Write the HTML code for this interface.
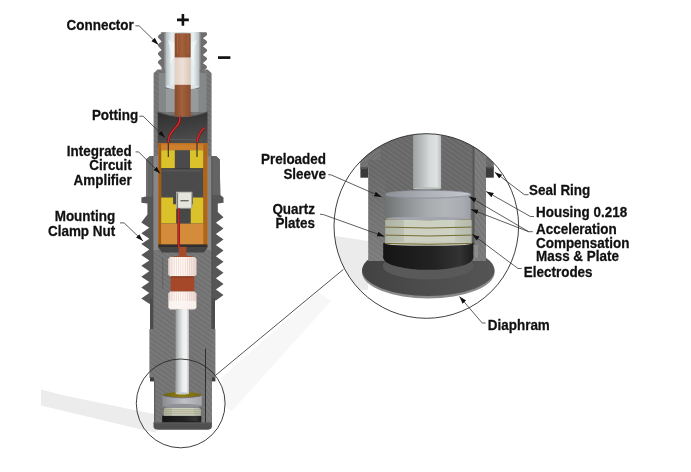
<!DOCTYPE html>
<html><head><meta charset="utf-8"><title>Piezoelectric pressure sensor</title>
<style>html,body{margin:0;padding:0;background:#fff;}body{width:691px;height:472px;overflow:hidden;font-family:"Liberation Sans",sans-serif;}svg{display:block;}</style>
</head><body><svg width="691" height="472" viewBox="0 0 691 472"><defs>
<pattern id="hatch" width="4" height="4" patternUnits="userSpaceOnUse" patternTransform="rotate(35)">
 <rect width="4" height="4" fill="#747474"/><rect width="4" height="1.2" fill="#7b7b7b"/><rect y="2.4" width="4" height="0.8" fill="#6d6d6d"/>
</pattern>
<pattern id="hatch2" width="4" height="4" patternUnits="userSpaceOnUse" patternTransform="rotate(-35)">
 <rect width="4" height="4" fill="#727272"/><rect width="4" height="1.2" fill="#797979"/><rect y="2.4" width="4" height="0.8" fill="#6c6c6c"/>
</pattern>
<pattern id="hatchW" width="4" height="4" patternUnits="userSpaceOnUse" patternTransform="rotate(55)">
 <rect width="4" height="4" fill="#7a7a7a"/><rect width="4" height="1.2" fill="#828282"/><rect y="2.4" width="4" height="0.8" fill="#747474"/>
</pattern>
<pattern id="hatchM" width="4" height="4" patternUnits="userSpaceOnUse" patternTransform="rotate(35)">
 <rect width="4" height="4" fill="#6a6a6a"/><rect width="4" height="1.2" fill="#717171"/><rect y="2.4" width="4" height="0.8" fill="#646464"/>
</pattern>
<pattern id="hatchD" width="4" height="4" patternUnits="userSpaceOnUse" patternTransform="rotate(35)">
 <rect width="4" height="4" fill="#5e5e5e"/><rect width="4" height="1" fill="#686868"/>
</pattern>
<linearGradient id="rod" x1="0" x2="1" y1="0" y2="0">
 <stop offset="0" stop-color="#999d9d"/><stop offset="0.25" stop-color="#c6caca"/><stop offset="0.55" stop-color="#eceeee"/><stop offset="0.8" stop-color="#f2f4f4"/><stop offset="1" stop-color="#b6baba"/>
</linearGradient>
<linearGradient id="rodB" x1="0" x2="1" y1="0" y2="0">
 <stop offset="0" stop-color="#9ea2a2"/><stop offset="0.3" stop-color="#b8bcbc"/><stop offset="0.6" stop-color="#d6dada"/><stop offset="0.85" stop-color="#dde1e1"/><stop offset="1" stop-color="#b8bcbc"/>
</linearGradient>
<linearGradient id="copper" x1="0" x2="1" y1="0" y2="0">
 <stop offset="0" stop-color="#874a2c"/><stop offset="0.45" stop-color="#a3613c"/><stop offset="1" stop-color="#8a4d2e"/>
</linearGradient>
<linearGradient id="cream" x1="0" x2="1" y1="0" y2="0">
 <stop offset="0" stop-color="#e2cfc2"/><stop offset="0.5" stop-color="#eee0d6"/><stop offset="1" stop-color="#d9c6b8"/>
</linearGradient>
<linearGradient id="glass" x1="0" x2="1" y1="0" y2="0">
 <stop offset="0" stop-color="#aeb8bb"/><stop offset="0.18" stop-color="#e8eef0"/><stop offset="0.5" stop-color="#cdd5d8"/><stop offset="0.82" stop-color="#eaf0f2"/><stop offset="1" stop-color="#b2bcbf"/>
</linearGradient>
<linearGradient id="potting" x1="0" x2="0.25" y1="0" y2="1">
 <stop offset="0" stop-color="#2e2e2e"/><stop offset="1" stop-color="#4e4e4e"/>
</linearGradient>
<linearGradient id="stripe" x1="0" x2="1" y1="0" y2="0">
 <stop offset="0" stop-color="#eee0da"/><stop offset="0.3" stop-color="#fefaf8"/><stop offset="0.7" stop-color="#faf2ee"/><stop offset="1" stop-color="#e6d4cc"/>
</linearGradient>
<pattern id="vstr" width="2.2" height="10" patternUnits="userSpaceOnUse"><rect width="2.2" height="10" fill="none"/><rect width="0.6" height="10" fill="#d8907c" opacity="0.38"/></pattern>
<linearGradient id="sleeve" x1="0" x2="1" y1="0" y2="0">
 <stop offset="0" stop-color="#6f7373"/><stop offset="0.25" stop-color="#8e9294"/><stop offset="0.5" stop-color="#a8acae"/><stop offset="0.7" stop-color="#b2b5b8"/><stop offset="0.9" stop-color="#aaacb2"/><stop offset="1" stop-color="#9c9ea6"/>
</linearGradient>
<linearGradient id="sleeveT" x1="0" x2="1" y1="0" y2="0">
 <stop offset="0" stop-color="#8e9098"/><stop offset="0.5" stop-color="#b0b2ba"/><stop offset="1" stop-color="#c4c6cc"/>
</linearGradient>
<linearGradient id="sleeveS" x1="0" x2="1" y1="0" y2="0">
 <stop offset="0" stop-color="#8a8c92"/><stop offset="0.55" stop-color="#c0c2c7"/><stop offset="1" stop-color="#a2a4aa"/>
</linearGradient>
<linearGradient id="quartz" x1="0" x2="1" y1="0" y2="0">
 <stop offset="0" stop-color="#afb3a4"/><stop offset="0.21" stop-color="#bcc0b0"/><stop offset="0.22" stop-color="#ccd0c0"/><stop offset="0.8" stop-color="#cdd1c1"/><stop offset="0.81" stop-color="#c3c7b7"/><stop offset="1" stop-color="#b5b9aa"/>
</linearGradient>
<linearGradient id="black" x1="0" x2="1" y1="0" y2="0">
 <stop offset="0" stop-color="#151515"/><stop offset="0.55" stop-color="#222"/><stop offset="0.85" stop-color="#333"/><stop offset="1" stop-color="#1c1c1c"/>
</linearGradient>
<linearGradient id="diaph" x1="0" x2="1" y1="0" y2="0">
 <stop offset="0" stop-color="#424242"/><stop offset="0.5" stop-color="#4d4d4d"/><stop offset="1" stop-color="#555"/>
</linearGradient>
<linearGradient id="olive" x1="0" x2="1" y1="0" y2="0">
 <stop offset="0" stop-color="#6e600a"/><stop offset="0.5" stop-color="#8e7e14"/><stop offset="1" stop-color="#75660c"/>
</linearGradient>
<linearGradient id="wallL" x1="0" x2="0" y1="0" y2="1">
 <stop offset="0" stop-color="#fff" stop-opacity="0"/><stop offset="1" stop-color="#fff" stop-opacity="0.13"/>
</linearGradient>
<clipPath id="bigc"><circle cx="426.3" cy="226" r="92.3"/></clipPath>
<marker id="ar" viewBox="0 0 10 10" refX="10" refY="5" markerWidth="7.4" markerHeight="7.4" markerUnits="userSpaceOnUse" orient="auto">
 <path d="M0,1.8 L10,5 L0,8.2 z" fill="#111"/>
</marker>
</defs><polygon points="41,389.4 64.4,395.5 156,414.6 156,432.8 135.3,427.9 41,405.6" fill="#ececec"/><polygon points="318,292 331,301 232,411 223,406 221,378" fill="#f7f7f7"/><rect x="165.5" y="32.2" width="34" height="55.5" fill="url(#glass)"/><path d="M168,40 Q172,52 170,64 Q176,56 178,44 Z" fill="#f4f8f9" opacity="0.8"/><path d="M197,40 Q192,52 195,66 Q190,58 188,44 Z" fill="#f4f8f9" opacity="0.7"/><ellipse cx="182.5" cy="86.8" rx="16.5" ry="2.8" fill="#e0e7ea"/><path d="M166,32.2 L160.6,32.2 L161.4,33.3 C158,35 157.6,36.7 158.2,37.72 C158.8,38.82 161,40.1 161.6,41.8 C158,43.5 157.6,45.2 158.2,46.22 C158.8,47.32 161,48.6 161.6,50.3 C158,52 157.6,53.7 158.2,54.72 C158.8,55.82 161,57.1 161.6,58.8 C158,60.5 157.6,62.2 158.2,63.22 C158.8,64.33 161,65.6 161.6,67.3 L161.6,70.3 L166,70.3 Z" fill="#6e6e6e"/><path d="M199.2,32.2 L206.2,32.2 C207.3,32.6 207.3,34.6 206.6,35.4 C205.5,36.6 203.5,37.4 202.8,38.3 C206.6,40.38 207.3,41.62 207.1,42.45 C206.8,43.7 204,45.35 202.8,46.6 C206.6,48.67 207.3,49.92 207.1,50.75 C206.8,51.99 204,53.65 202.8,54.9 C206.6,56.97 207.3,58.22 207.1,59.05 C206.8,60.29 204,61.95 202.8,63.2 C206.6,65.27 207.3,66.52 207.1,67.35 C206.8,68.59 204,70.25 202.8,71.5 L202.8,70.3 L199.2,70.3 Z" fill="#6e6e6e"/><rect x="164" y="32.2" width="2" height="38" fill="#8a8a8a"/><rect x="199.2" y="32.2" width="1.6" height="38" fill="#8a8a8a"/><polygon points="157.5,69.5 207.7,69.5 211.6,73.2 211.6,160 153.6,160 153.6,73.2" fill="url(#hatch)"/><rect x="158.8" y="73" width="7.4" height="39" fill="#848888"/><rect x="198.2" y="73" width="8.2" height="39" fill="#848888"/><rect x="165.5" y="32.2" width="34" height="54.8" fill="url(#glass)"/><path d="M168,40 Q172,52 170,64 Q176,56 178,44 Z" fill="#f4f8f9" opacity="0.8"/><path d="M197,40 Q192,52 195,66 Q190,58 188,44 Z" fill="#f4f8f9" opacity="0.7"/><ellipse cx="182.5" cy="86.8" rx="16.5" ry="2.6" fill="#dde4e7"/><rect x="166" y="89" width="32.5" height="23" fill="#979b9b"/><rect x="174.7" y="33.3" width="16" height="24.4" rx="0.8" fill="url(#copper)"/><rect x="177" y="34" width="1" height="20" fill="#b86a40" opacity="0.7"/><rect x="187.5" y="34" width="1" height="20" fill="#b86a40" opacity="0.7"/><rect x="174.7" y="57.6" width="16" height="27.2" fill="url(#cream)"/><rect x="174.7" y="84.8" width="16" height="31.4" fill="url(#copper)"/><path d="M157.7,111.8 Q182.6,121.6 207.5,111.8 L207.5,146 L157.7,146 Z" fill="url(#potting)"/><path d="M157.7,111.8 Q182.6,121.6 207.5,111.8" fill="none" stroke="#5a5a5a" stroke-width="1.2"/><rect x="174.7" y="112" width="16" height="4.6" fill="url(#copper)"/><line x1="170" y1="139.6" x2="196" y2="139.6" stroke="#6a6a6a" stroke-width="0.5"/><polygon points="150,156 146.2,159.5 146,196.6 141.4,197.6 141.4,202.7 147.4,203.6 147.4,214.5 141.3,222.43 149.3,227.85 141.3,233.28 149.3,238.7 141.3,244.12 149.3,249.55 141.3,254.97 149.3,260.4 141.3,265.82 149.3,271.25 141.3,276.68 149.3,282.1 141.3,287.53 149.3,292.95 141.3,298.38 149.3,303.8 150,303.8 150,329 183,329 183,329 215,329 215,300.6 215.9,300.55 223.5,295 215.9,289.45 223.5,283.9 215.9,278.35 223.5,272.8 215.9,267.25 223.5,261.7 215.9,256.15 223.5,250.6 215.9,245.05 223.5,239.5 215.9,233.95 223.5,228.4 215.9,222.85 223.5,217.3 217.8,212 217.8,203.6 223.5,202.7 223.5,197.6 220.3,195 219.7,159.5 216,156" fill="#565656"/><polygon points="150,156 146.2,159.5 146,196.6 153,196.6 153,156" fill="#646464"/><polygon points="216,156 219.7,159.5 220.3,195 211.8,195 211.8,156" fill="#646464"/><polygon points="150,156 146.2,159.5 146,196.6 148,196.6 148,159.5 151,157" fill="#6e6e6e"/><rect x="152.8" y="156" width="59.2" height="175" fill="url(#hatch)"/><rect x="152.9" y="156" width="5.7" height="94" fill="#878787"/><rect x="207" y="156" width="4.6" height="94" fill="#878787"/><line x1="152.9" y1="156" x2="152.9" y2="330" stroke="#4a4a4a" stroke-width="0.8"/><line x1="211.8" y1="156" x2="211.8" y2="330" stroke="#4a4a4a" stroke-width="0.8"/><rect x="150" y="298" width="2.9" height="31" fill="#4c4c4c"/><rect x="211.8" y="298" width="3.2" height="31" fill="#4c4c4c"/><rect x="158.4" y="143.3" width="49" height="104" fill="#cf842e"/><rect x="158.4" y="143.3" width="2.8" height="104" fill="#a25c14"/><rect x="203.2" y="143.3" width="4.2" height="104" fill="#b0661a"/><rect x="161.2" y="143.3" width="42" height="6.9" fill="#cd7f2c"/><rect x="158.4" y="143.3" width="49" height="1" fill="#b86e20"/><rect x="161.2" y="150.2" width="42" height="18.6" fill="#4a4a4a"/><rect x="161.2" y="150.2" width="13.6" height="18.6" fill="#dcc22a"/><rect x="190" y="150.2" width="13.2" height="18.6" fill="#dcc22a"/><rect x="161.2" y="168.8" width="42" height="28.8" fill="#4b4b4b"/><polygon points="161.2,168.8 203.2,168.8 200.8,171.5 163.6,171.5" fill="#575757"/><rect x="161.2" y="168.4" width="42" height="0.9" fill="#2a2a3a"/><rect x="161.2" y="197" width="42" height="27" fill="#474747"/><polygon points="161.2,197.6 173.1,197.6 173.1,204.3 176.4,204.3 176.4,223.6 161.2,223.6" fill="#dcc22a"/><polygon points="203.2,197.6 193,197.6 193,204.3 190.5,204.3 190.5,223.6 203.2,223.6" fill="#dcc22a"/><rect x="176.4" y="208.6" width="14.1" height="15" fill="#474747"/><rect x="176" y="191.7" width="16.4" height="17" fill="#a7a7a2"/><rect x="177.3" y="192.6" width="13.8" height="15.2" fill="#e6e5dc"/><rect x="180.4" y="200" width="8.2" height="1.4" fill="#6d6b63"/><line x1="177.6" y1="193" x2="177.6" y2="208.6" stroke="#333" stroke-width="0.6"/><rect x="161.2" y="223.6" width="42" height="20.8" fill="#d48b3a"/><rect x="158.4" y="244.4" width="49" height="3.3" fill="#2f2f2f"/><polygon points="158.4,247.6 207.4,247.6 204,252.6 162,252.6" fill="#444"/><path d="M179.4,117 C181.5,121 177,126 172.5,131 C169.5,134.5 168.3,138 168.3,143" stroke="#6a1010" stroke-width="2.4" fill="none"/><path d="M179.4,117 C181.5,121 177,126 172.5,131 C169.5,134.5 168.3,138 168.3,143" stroke="#d42a2a" stroke-width="1.5" fill="none"/><path d="M168.3,143 L168.3,157" stroke="#2e2a24" stroke-width="1.1" fill="none"/><path d="M204.3,127.8 C200.5,131.5 197.5,135 197,142.8" stroke="#6a1010" stroke-width="2.4" fill="none"/><path d="M204.3,127.8 C200.5,131.5 197.5,135 197,142.8" stroke="#d42a2a" stroke-width="1.5" fill="none"/><path d="M197,142.8 L197,157" stroke="#2e2a24" stroke-width="1.1" fill="none"/><path d="M178.7,208.6 L178.7,247.5" stroke="#7a1c1c" stroke-width="2.6" fill="none"/><path d="M178.7,208.6 L178.7,247.5" stroke="#c42a2a" stroke-width="1.4" fill="none"/><rect x="178.8" y="246.8" width="7.6" height="10.1" fill="#a44c2a"/><rect x="173.7" y="256" width="17.8" height="1.8" fill="#a44c2a"/><polygon points="170.1,256.9 194.7,256.9 196.5,258.7 196.5,274.6 194.7,276.4 170.1,276.4 168.3,274.6 168.3,258.7" fill="url(#stripe)"/><polygon points="170.1,256.9 194.7,256.9 196.5,258.7 196.5,274.6 194.7,276.4 170.1,276.4 168.3,274.6 168.3,258.7" fill="url(#vstr)"/><rect x="170.6" y="276.4" width="23.7" height="15.2" fill="#a5482a"/><rect x="170.6" y="276.4" width="23.7" height="1.2" fill="#8a3a20"/><polygon points="170.1,291.6 194.7,291.6 196.5,293.4 196.5,307.6 194.7,309.4 170.1,309.4 168.3,307.6 168.3,293.4" fill="url(#stripe)"/><polygon points="170.1,291.6 194.7,291.6 196.5,293.4 196.5,307.6 194.7,309.4 170.1,309.4 168.3,307.6 168.3,293.4" fill="url(#vstr)"/><rect x="169" y="301" width="27" height="7.5" fill="#fbf6f3" opacity="0.8"/><line x1="162.7" y1="257" x2="162.7" y2="289" stroke="#555" stroke-width="0.6"/><polygon points="149.4,329 215.4,329 215.4,377.4 211.9,381.4 211.9,424 154,424 154,381.4 149.4,377.4" fill="url(#hatch)"/><rect x="150" y="377.4" width="4" height="4" fill="#3c3c3c"/><rect x="211.9" y="377.4" width="3.5" height="4" fill="#3c3c3c"/><line x1="205.5" y1="348.8" x2="205.5" y2="422.6" stroke="#2e2e2e" stroke-width="0.9"/><rect x="206" y="381.4" width="5.9" height="41" fill="url(#hatchW)"/><rect x="154" y="381.4" width="7.6" height="41" fill="url(#hatch)"/><rect x="154" y="381.4" width="1.2" height="41" fill="#5e5e5e"/><rect x="175.6" y="309" width="13.4" height="84.6" fill="url(#rod)"/><ellipse cx="182.3" cy="393.3" rx="6.7" ry="1" fill="#c8cccc"/><rect x="162.2" y="415.7" width="39.1" height="8" fill="url(#black)"/><ellipse cx="181.75" cy="423.6" rx="19.55" ry="2.8" fill="#1e1e1e"/><polygon points="165.3,407.8 198.8,407.8 200.8,409.5 200.8,415.8 163.8,415.8 163.8,409.5" fill="url(#quartz)"/><line x1="164" y1="409.7" x2="200.6" y2="409.7" stroke="#9a9060" stroke-width="0.5"/><line x1="164" y1="411.7" x2="200.6" y2="411.7" stroke="#9a9060" stroke-width="0.5"/><line x1="164" y1="413.7" x2="200.6" y2="413.7" stroke="#9a9060" stroke-width="0.5"/><rect x="162.4" y="394.8" width="39.4" height="11" fill="url(#sleeveS)"/><ellipse cx="182.1" cy="405.8" rx="19.7" ry="2" fill="#909298"/><ellipse cx="182.3" cy="395" rx="19.6" ry="3" fill="url(#olive)"/><path d="M162.7,395.5 Q182.3,400.5 201.9,395.5" stroke="#6a6ab0" stroke-width="0.6" fill="none"/><rect x="175.6" y="380" width="13.4" height="13.6" fill="url(#rod)"/><ellipse cx="182.3" cy="393.4" rx="6.7" ry="1.1" fill="#c4c8c8"/><path d="M153.5,422.6 L211.9,422.6 L211.9,426.5 Q211.6,429.8 207,429.8 L158.4,429.8 Q153.8,429.8 153.5,426.5 Z" fill="#505050"/><path d="M153.5,422.6 L211.9,422.6 L211.9,423.6 L153.5,423.6 Z" fill="#5e5e5e"/><line x1="205.5" y1="348.8" x2="205.5" y2="422.6" stroke="#2e2e2e" stroke-width="0.9"/><circle cx="180.7" cy="403.4" r="44.4" fill="none" stroke="#2a2a2a" stroke-width="0.9"/><g clip-path="url(#bigc)"><polygon points="330,235.2 368.2,241 368.2,262 368,289.5 356,291.2 330,291.2" fill="#ebebeb"/><ellipse cx="428.3" cy="272.3" rx="66.3" ry="26.2" fill="#8a8a8a"/><ellipse cx="428.3" cy="270.3" rx="66.2" ry="25.6" fill="url(#diaph)"/><polygon points="360.4,120 493.8,120 493.8,167.3 360.4,167.3" fill="url(#hatchM)"/><rect x="360.4" y="120" width="20" height="47.3" fill="url(#hatch2)"/><rect x="360.4" y="167.3" width="7.8" height="10.4" fill="#3a3a3a"/><polygon points="360.4,167.3 368.2,167.3 366.8,169 360.4,169" fill="#555"/><rect x="486" y="166.9" width="7.8" height="10.8" fill="#3a3a3a"/><polygon points="486,166.9 493.8,166.9 493.8,168.6 487.4,168.6" fill="#555"/><rect x="368.2" y="160" width="117.8" height="101" fill="url(#hatchM)"/><rect x="368.2" y="172" width="17.2" height="89" fill="url(#wallL)"/><rect x="472.8" y="120" width="13.2" height="141" fill="url(#hatchW)"/><rect x="472.5" y="120" width="2" height="125" fill="#565656"/><rect x="474.5" y="245" width="3.5" height="13" fill="#8c8c8c"/><rect x="413.1" y="120" width="28" height="68.4" fill="url(#rodB)"/><ellipse cx="427.1" cy="188.4" rx="14" ry="1.2" fill="#b8bdbd"/><ellipse cx="428.3" cy="266" rx="45.6" ry="13.6" fill="#595959"/><rect x="383.2" y="243" width="90.1" height="15" fill="url(#black)"/><ellipse cx="428.25" cy="257.8" rx="45.05" ry="12" fill="url(#black)"/><polygon points="387,218.6 469.8,218.6 471.6,220.2 471.6,244 385.2,244 385.2,220.2" fill="url(#quartz)"/><ellipse cx="428.4" cy="243.6" rx="43.2" ry="2.2" fill="#c6cabb"/><path d="M385.2,218.9 Q428.4,220.7 471.6,218.9" stroke="#766a34" stroke-width="1" fill="none"/><path d="M385.2,227.1 Q428.4,228.9 471.6,227.1" stroke="#766a34" stroke-width="1" fill="none"/><path d="M385.2,235.1 Q428.4,236.9 471.6,235.1" stroke="#766a34" stroke-width="1" fill="none"/><path d="M385.2,243.4 Q428.4,245.2 471.6,243.4" stroke="#766a34" stroke-width="1" fill="none"/><rect x="385.3" y="194.3" width="85.4" height="24.3" fill="url(#sleeve)"/><ellipse cx="428" cy="218.5" rx="42.7" ry="1.6" fill="#a2a4ae"/><ellipse cx="428" cy="194.3" rx="42.7" ry="3.8" fill="url(#sleeveT)" stroke="#8e909c" stroke-width="0.7"/><ellipse cx="428" cy="194" rx="40.6" ry="2.9" fill="url(#sleeveT)" opacity="0.7"/><path d="M386,195.5 Q428,200.5 470,195.5" stroke="#9698a6" stroke-width="0.6" fill="none"/></g><circle cx="426.3" cy="226" r="92.3" fill="none" stroke="#2a2a2a" stroke-width="0.9"/><path d="M135.4,25.8 L139.1,25.8 L158.4,44.7" fill="none" stroke="#2a2a2a" stroke-width="0.75" marker-end="url(#ar)"/><path d="M139.3,116.2 L143.1,116.2 L165,137.6" fill="none" stroke="#2a2a2a" stroke-width="0.75" marker-end="url(#ar)"/><path d="M135.6,151.9 L138.7,151.9 L160.3,173.6" fill="none" stroke="#2a2a2a" stroke-width="0.75" marker-end="url(#ar)"/><path d="M120,222.9 L124.1,222.9 L143,241" fill="none" stroke="#2a2a2a" stroke-width="0.75" marker-end="url(#ar)"/><path d="M328.2,174.6 L331.1,174.9 L381.6,196.9" fill="none" stroke="#2a2a2a" stroke-width="0.75" marker-end="url(#ar)"/><path d="M320,214.2 L323.7,214.7 L384.5,236.5" fill="none" stroke="#2a2a2a" stroke-width="0.75" marker-end="url(#ar)"/><path d="M528.6,194.7 L524.4,194.7 L494.8,172.2" fill="none" stroke="#2a2a2a" stroke-width="0.75" marker-end="url(#ar)"/><path d="M534,216.5 L530.4,216.5 L486.2,191.5" fill="none" stroke="#2a2a2a" stroke-width="0.75" marker-end="url(#ar)"/><path d="M532.8,231.7 L528.7,231.7 L469,196.6" fill="none" stroke="#2a2a2a" stroke-width="0.75" marker-end="url(#ar)"/><path d="M528.7,231.7 L470.9,209.3" fill="none" stroke="#2a2a2a" stroke-width="0.75" marker-end="url(#ar)"/><path d="M521.7,268.5 L518,268.5 L472.2,234.3" fill="none" stroke="#2a2a2a" stroke-width="0.75" marker-end="url(#ar)"/><path d="M485.6,323 L482.2,323 L459.5,296.5" fill="none" stroke="#2a2a2a" stroke-width="0.75" marker-end="url(#ar)"/><line x1="215.3" y1="375.5" x2="343.4" y2="269.4" stroke="#2a2a2a" stroke-width="0.8"/><g font-family="Liberation Sans, sans-serif" font-weight="bold" font-size="13.45" fill="#111" stroke="#111" stroke-width="0.25" style="will-change:transform"><text transform="translate(133.8 29.9) scale(1 1.04)" text-anchor="end">Connector</text><text transform="translate(138.2 119.8) scale(1 1.04)" text-anchor="end">Potting</text><text transform="translate(131.8 156) scale(1 1.04)" text-anchor="end">Integrated</text><text transform="translate(131.8 170.4) scale(1 1.04)" text-anchor="end">Circuit</text><text transform="translate(131.8 184.7) scale(1 1.04)" text-anchor="end">Amplifier</text><text transform="translate(115.2 221.4) scale(1 1.04)" text-anchor="end">Mounting</text><text transform="translate(115.2 235.6) scale(1 1.04)" text-anchor="end">Clamp Nut</text><text transform="translate(326 164) scale(1 1.04)" text-anchor="end">Preloaded</text><text transform="translate(326 178.8) scale(1 1.04)" text-anchor="end">Sleeve</text><text transform="translate(315 214.2) scale(1 1.04)" text-anchor="end">Quartz</text><text transform="translate(315 228.2) scale(1 1.04)" text-anchor="end">Plates</text><text transform="translate(529 195) scale(1 1.04)" text-anchor="start">Seal Ring</text><text transform="translate(536 216.6) scale(1 1.04)" text-anchor="start">Housing 0.218</text><text transform="translate(536 234.4) scale(1 1.04)" text-anchor="start">Acceleration</text><text transform="translate(536 247.8) scale(1 1.04)" text-anchor="start">Compensation</text><text transform="translate(536 261.2) scale(1 1.04)" text-anchor="start">Mass &amp; Plate</text><text transform="translate(523.8 277) scale(1 1.04)" text-anchor="start">Electrodes</text><text transform="translate(487.8 330) scale(1 1.04)" text-anchor="start">Diaphram</text></g><path d="M182.9,14 V25.8 M177,19.9 H188.8" stroke="#111" stroke-width="2.6"/><path d="M218,57.6 H230.4" stroke="#111" stroke-width="2.7"/></svg></body></html>
